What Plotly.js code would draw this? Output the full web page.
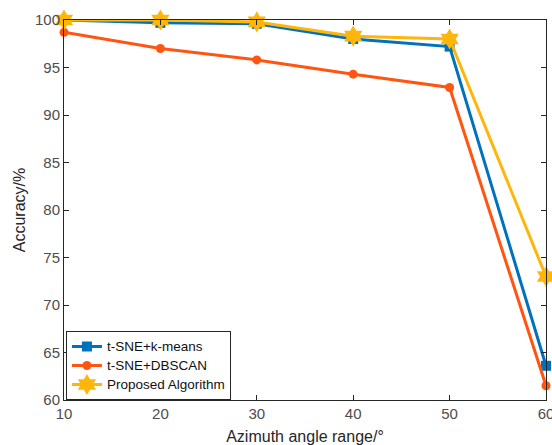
<!DOCTYPE html>
<html><head><meta charset="utf-8">
<script src="https://cdn.plot.ly/plotly-3.0.1.min.js"></script>
<style>html,body{margin:0;padding:0;background:#fff;}#chart{width:552px;height:445px;}</style>
</head><body><div id="chart"></div>
<script>
const angles = [10, 20, 30, 40, 50, 60];
const kmeans = [100, 99.7, 99.6, 98.0, 97.2, 63.6];
const dbscan = [98.7, 97.0, 95.8, 94.3, 92.9, 61.5];
const proposed = [100, 100, 99.8, 98.3, 98.0, 73.0];
const seriesNames = ['t-SNE+k-means', 't-SNE+DBSCAN', 'Proposed Algorithm'];
const xTicks = [10, 20, 30, 40, 50, 60];
const yTicks = [60, 65, 70, 75, 80, 85, 90, 95, 100];

const font = 'Liberation Sans, Arial, sans-serif';
const lbl = s => '<span style="font-size:13.5px">' + s + '</span>';
const traces = [
  {x: angles, y: kmeans, name: lbl(seriesNames[0]), mode: 'lines+markers', cliponaxis: false,
   line: {color: '#0072BD', width: 3}, marker: {symbol: 'square', size: 10, color: '#0072BD'}},
  {x: angles, y: dbscan, name: lbl(seriesNames[1]), mode: 'lines+markers', cliponaxis: false,
   line: {color: '#FF5512', width: 3}, marker: {symbol: 'circle', size: 9, color: '#FF5512'}},
  {x: angles, y: proposed, name: lbl(seriesNames[2]), mode: 'lines+markers', cliponaxis: false,
   line: {color: '#FFB60A', width: 3}, marker: {symbol: 'hexagram', size: 16, color: '#FFB60A'}}
];
const axisCommon = {
  showgrid: false, zeroline: false, showline: true, linecolor: '#262626', linewidth: 1,
  mirror: 'ticks', ticks: 'inside', ticklen: 5, tickcolor: '#262626', tickwidth: 1,
  ticklabeloverflow: 'allow',
  tickfont: {family: font, size: 15, color: '#4D4D4D'}
};
const layout = {
  width: 552, height: 445,
  margin: {l: 64, r: 6, t: 20, b: 45},
  paper_bgcolor: '#fff', plot_bgcolor: '#fff',
  showlegend: true,
  xaxis: Object.assign({}, axisCommon, {range: [10, 60], tickvals: xTicks, ticktext: xTicks.map(String),
    title: {text: 'Azimuth angle range/°', font: {family: font, size: 16, color: '#262626'}, standoff: 10}}),
  yaxis: Object.assign({}, axisCommon, {range: [60, 100], tickvals: yTicks, ticktext: yTicks.map(String),
    title: {text: 'Accuracy/%', font: {family: font, size: 16, color: '#262626'}, standoff: 5}}),
  legend: {x: 0.004, y: 0, xanchor: 'left', yanchor: 'bottom', bgcolor: '#fff',
    bordercolor: '#262626', borderwidth: 1, font: {family: font, size: 11, color: '#111'},
    tracegroupgap: 0}
};
Plotly.newPlot('chart', traces, layout, {displayModeBar: false, staticPlot: true});
</script></body></html>
